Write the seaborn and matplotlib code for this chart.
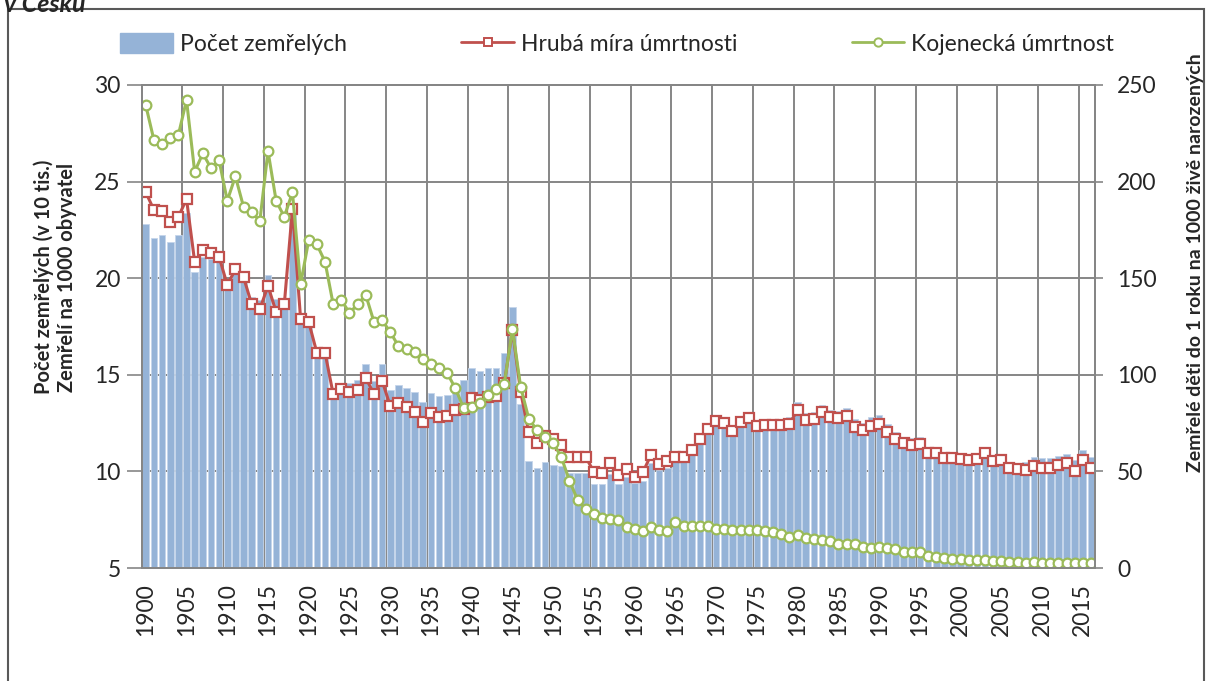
import numpy as np
import pandas as pd
import matplotlib
matplotlib.use("Agg")
import matplotlib.pyplot as plt
import seaborn as sns
from matplotlib.lines import Line2D
from matplotlib.patches import Patch, Rectangle

# === Data ===
years = list(range(1900, 2017))

# deaths, in tens of thousands (bars, left axis)
deaths = [
    22.79, 22.10, 22.25, 21.86, 22.25, 23.36, 20.34, 21.10, 21.00, 20.90,
    19.90, 20.30, 20.20, 19.04, 18.87, 20.17, 18.90, 18.70, 23.70, 17.95,
    17.70, 16.20, 16.20, 13.90, 14.60, 14.60, 14.75, 15.56, 14.70, 15.56,
    14.21, 14.47, 14.33, 14.10, 13.59, 14.08, 13.90, 13.95, 14.38, 14.73,
    15.37, 15.21, 15.33, 15.33, 16.15, 18.49, 13.47, 10.54, 10.16, 10.49,
    10.33, 10.28, 9.90, 9.90, 9.90, 9.35, 9.35, 9.87, 9.35, 9.73,
    9.40, 9.52, 10.42, 10.07, 10.20, 10.54, 10.54, 10.85, 11.42, 12.00,
    12.37, 12.32, 11.88, 12.40, 12.52, 12.22, 12.35, 12.66, 12.66, 12.80,
    13.58, 13.04, 13.07, 13.44, 13.20, 13.13, 13.26, 12.70, 12.52, 12.80,
    12.90, 12.44, 12.02, 11.80, 11.71, 11.76, 11.28, 11.28, 11.00, 10.94,
    10.85, 10.76, 10.76, 10.90, 10.45, 10.45, 10.45, 10.42, 10.50, 10.73,
    10.68, 10.68, 10.80, 10.90, 10.60, 11.10, 10.76,
]

# crude death rate per 1000 (red line, left axis)
crude_rate = [
    24.45, 23.53, 23.50, 22.93, 23.17, 24.10, 20.85, 21.46, 21.29, 21.11,
    19.65, 20.46, 20.05, 18.65, 18.40, 19.60, 18.25, 18.65, 23.60, 17.90,
    17.73, 16.14, 16.14, 14.00, 14.25, 14.10, 14.20, 14.85, 14.00, 14.70,
    13.39, 13.52, 13.32, 13.07, 12.57, 13.00, 12.83, 12.85, 13.18, 13.25,
    13.78, 13.72, 13.87, 13.90, 14.56, 17.32, 14.13, 12.02, 11.45, 11.83,
    11.66, 11.37, 10.73, 10.73, 10.73, 9.98, 9.93, 10.42, 9.81, 10.12,
    9.73, 9.95, 10.85, 10.38, 10.52, 10.76, 10.76, 11.10, 11.68, 12.19,
    12.62, 12.49, 12.11, 12.57, 12.75, 12.37, 12.40, 12.42, 12.42, 12.47,
    13.18, 12.66, 12.70, 13.07, 12.83, 12.75, 12.87, 12.31, 12.14, 12.37,
    12.47, 12.06, 11.66, 11.45, 11.37, 11.40, 10.93, 10.95, 10.68, 10.70,
    10.62, 10.57, 10.63, 10.95, 10.56, 10.57, 10.16, 10.13, 10.07, 10.28,
    10.20, 10.20, 10.33, 10.42, 10.04, 10.59, 10.20,
]

# infant mortality per 1000 live births (green line, right axis)
infant = [
    239.5, 221.5, 219.6, 222.4, 224.1, 242.2, 205.1, 214.6, 207.0, 211.0,
    190.1, 202.7, 186.9, 184.4, 179.6, 215.8, 190.0, 181.8, 194.4, 146.8,
    169.8, 167.5, 158.5, 136.5, 138.7, 132.0, 136.5, 141.3, 127.5, 128.2,
    122.2, 114.9, 113.2, 111.8, 108.0, 105.4, 103.4, 100.8, 93.0, 82.8,
    83.2, 85.6, 89.7, 92.8, 95.4, 123.7, 93.9, 77.3, 71.4, 67.6,
    64.9, 57.3, 45.2, 35.2, 30.4, 27.9, 26.0, 25.5, 24.8, 21.4,
    20.0, 19.3, 21.4, 19.7, 19.2, 24.0, 21.9, 21.7, 21.9, 21.9,
    20.4, 20.2, 19.7, 19.7, 19.5, 19.5, 19.2, 18.8, 17.4, 16.2,
    17.1, 15.4, 15.0, 14.5, 14.0, 12.4, 12.4, 12.2, 11.0, 10.2,
    10.7, 10.5, 10.0, 8.5, 8.1, 8.1, 6.4, 5.9, 5.4, 4.7,
    4.5, 4.0, 4.1, 3.9, 3.7, 3.4, 3.3, 3.1, 2.8, 2.9,
    2.7, 2.7, 2.6, 2.5, 2.4, 2.5, 2.8,
]

df = pd.DataFrame({"rok": [str(y) for y in years], "zemreli": deaths,
                   "hruba": crude_rate, "kojenecka": infant})
df["pos"] = np.arange(len(df))

bar_color = "#95B3D7"
red = "#C0504D"
green = "#9BBB59"
grid_color = "#868686"

sns.set_theme(style="white")
plt.rcParams["font.family"] = ["Lato", "DejaVu Sans"]

fig = plt.figure(figsize=(12.08, 6.81), dpi=100)
ax = fig.add_axes([0.1173, 0.1659, 0.7892, 0.7093])

sns.barplot(data=df, x="rok", y="zemreli", color=bar_color, width=0.82,
            saturation=1, edgecolor="#C5D5EA", linewidth=0.6, ax=ax)
sns.lineplot(data=df, x="pos", y="hruba", color=red, lw=2.2, marker="s",
             markersize=7, markerfacecolor="white", markeredgecolor=red,
             markeredgewidth=1.6, ax=ax)

ax.set_xlim(-0.5, len(df) - 0.5)
ax.set_ylim(5, 30)
ax.set_yticks(range(5, 31, 5))
ax.set_axisbelow(True)

# labels every 5 years, tick marks / gridlines on category boundaries
ax.set_xticks(np.arange(0, len(df), 5))
ax.set_xticklabels([str(y) for y in years[::5]], rotation=90, fontsize=16.5)
ax.set_xticks(np.arange(-0.5, len(df) - 1, 5), minor=True)
ax.tick_params(axis="x", which="major", length=0, pad=11)
ax.tick_params(axis="x", which="minor", length=5, width=1.2, color=grid_color,
               direction="out")
ax.tick_params(axis="y", length=11, width=1.2, color=grid_color, pad=4,
               labelsize=16.5, direction="out", left=True)
ax.grid(False)
ax.grid(True, axis="x", which="minor", color=grid_color, lw=1.4)
ax.grid(True, axis="y", which="major", color=grid_color, lw=1.4)
ax.set_xlabel("")
ax.set_ylabel("")
for s in ax.spines.values():
    s.set_color(grid_color)
    s.set_linewidth(1.4)

ax2 = ax.twinx()
sns.lineplot(data=df, x="pos", y="kojenecka", color=green, lw=2.2, marker="o",
             markersize=7, markerfacecolor="white", markeredgecolor=green,
             markeredgewidth=1.6, ax=ax2)
ax2.set_ylim(0, 250)
ax2.set_yticks(range(0, 251, 50))
ax2.set_ylabel("")
ax2.tick_params(axis="y", length=6, width=1.2, color=grid_color, pad=10,
                labelsize=16.5, direction="out", right=True)
ax2.grid(False)
for s in ax2.spines.values():
    s.set_color(grid_color)
    s.set_linewidth(1.4)

# axis titles
fig.text(55 / 1208, 1 - 277 / 681,
         "Počet zemřelých (v 10 tis.)\nZemřelí na 1000 obyvatel",
         rotation=90, ha="center", va="center", fontsize=14.5, fontweight="bold",
         multialignment="center", linespacing=1.2)
fig.text(1196 / 1208, 1 - 263 / 681,
         "Zemřelé děti do 1 roku na 1000 živě narozených",
         rotation=90, ha="center", va="center", fontsize=14, fontweight="bold")

# legend
handles = [
    Patch(facecolor=bar_color, edgecolor=bar_color),
    Line2D([], [], color=red, lw=2, marker="s", markersize=6,
           markerfacecolor="white", markeredgecolor=red, markeredgewidth=1.4),
    Line2D([], [], color=green, lw=2, marker="o", markersize=6,
           markerfacecolor="white", markeredgecolor=green, markeredgewidth=1.4),
]
labels = ["Počet zemřelých", "Hrubá míra úmrtnosti", "Kojenecká úmrtnost"]
fig.legend(handles, labels, loc="center left", bbox_to_anchor=(120 / 1208, 1 - 44 / 681),
           ncol=3, frameon=False, fontsize=16.5, handlelength=2.3, handleheight=1.0,
           handletextpad=0.3, columnspacing=5.0, borderaxespad=0, borderpad=0)

# cut-off heading and outer frame
fig.text(4 / 1208, 1 - 12 / 681, "v Česku", fontsize=18, fontweight="bold",
         fontstyle="italic", va="baseline", ha="left")
fig.patches.append(Rectangle((8 / 1208, -0.05), 1196 / 1208, 1.05 - 9 / 681,
                             transform=fig.transFigure, fill=False,
                             edgecolor="#595959", lw=1.5))

fig.savefig("out.png", dpi=100)
